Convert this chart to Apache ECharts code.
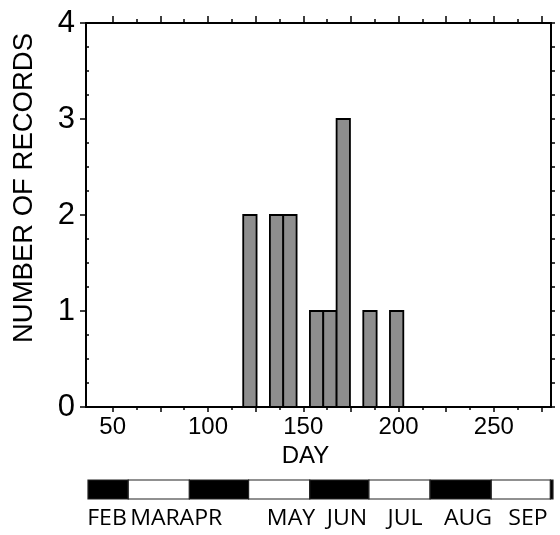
<!DOCTYPE html>
<html>
<head>
<meta charset="utf-8">
<script src="https://cdn.jsdelivr.net/npm/echarts@6/dist/echarts.min.js"></script>
<style>
html,body{margin:0;padding:0;background:#fff;}
#chart{width:560px;height:535px;}
</style>
</head>
<body>
<div id="chart"></div>
<script>
// ---- data ----
const weekCenters = [122, 129, 136, 143, 150, 157, 164, 171, 178, 185, 192, 199];
const counts      = [2,   0,   2,   2,   0,   1,   1,   3,   0,   1,   0,   1];
const binWidth = 7;
const xLabelValues = [50, 100, 150, 200, 250];
const xMajorTicks = [50, 75, 100, 125, 150, 175, 200, 225, 250, 275];
const xMinorTicks = [62.5, 87.5, 112.5, 137.5, 162.5, 187.5, 212.5, 237.5, 262.5];
const yMinorTicks = [0.25, 0.5, 0.75, 1.25, 1.5, 1.75, 2.25, 2.5, 2.75, 3.25, 3.5, 3.75];
const months = ['FEB', 'MAR', 'APR', 'MAY', 'JUN', 'JUL', 'AUG', 'SEP', 'OCT'];
const monthStarts = [32, 60, 91, 121, 152, 182, 213, 244, 274, 305];
const monthLabelX = [107, 155, 201, 291, 347, 405, 468, 528];

const histData = weekCenters.map((d, i) => [d, counts[i]]).filter(p => p[1] > 0);
const monthData = months.map((m, i) => [monthStarts[i], monthStarts[i + 1], i % 2]);

const FONT = 'Liberation Sans';
const black = '#000';

function baseX(extra) {
  return Object.assign({
    type: 'value', gridIndex: 0, min: 36, max: 280,
    splitLine: { show: false },
    axisLine: { show: false, onZero: false },
    axisLabel: { show: false },
    axisTick: { show: false }
  }, extra);
}

const option = {
  backgroundColor: '#fff',
  animation: false,
  grid: [
    { left: 86, right: 9, top: 23, bottom: 128 },
    { left: 88, right: 7, top: 480, height: 19 }
  ],
  xAxis: [
    baseX({
      position: 'bottom',
      axisLine: { show: true, onZero: false, lineStyle: { color: black, width: 2 } },
      axisTick: { show: true, inside: false, length: 5, customValues: xMajorTicks, lineStyle: { color: black, width: 1.5 } },
      axisLabel: { show: true, customValues: xLabelValues, fontSize: 24, color: black, margin: 8, fontFamily: FONT },
      name: 'DAY', nameLocation: 'middle', nameGap: 37,
      nameTextStyle: { fontSize: 24, color: black, fontFamily: FONT, padding: [0, 26, 0, 0] }
    }),
    baseX({
      position: 'bottom',
      axisTick: { show: true, inside: false, length: 3, customValues: xMinorTicks, lineStyle: { color: black, width: 1.5 } }
    }),
    baseX({
      position: 'top',
      axisLine: { show: true, onZero: false, lineStyle: { color: black, width: 2 } },
      axisTick: { show: true, inside: false, length: 7, customValues: xMajorTicks, lineStyle: { color: black, width: 1.5 } }
    }),
    baseX({
      position: 'top',
      axisTick: { show: true, inside: false, length: 4, customValues: xMinorTicks, lineStyle: { color: black, width: 1.5 } }
    }),
    { type: 'value', gridIndex: 1, min: 39.6, max: 275.3, show: false }
  ],
  yAxis: [
    {
      type: 'value', gridIndex: 0, position: 'left', min: 0, max: 4, interval: 1,
      splitLine: { show: false },
      axisLine: { show: true, onZero: false, lineStyle: { color: black, width: 2 } },
      axisTick: { show: true, inside: false, length: 6, lineStyle: { color: black, width: 1.5 } },
      axisLabel: { fontSize: 31, color: black, margin: 11, fontFamily: FONT },
      name: 'NUMBER OF RECORDS', nameLocation: 'middle', nameGap: 48,
      nameTextStyle: { fontSize: 27.5, color: black, fontFamily: FONT, padding: [0, 0, 0, 54] }
    },
    {
      type: 'value', gridIndex: 0, position: 'left', min: 0, max: 4,
      splitLine: { show: false },
      axisLine: { show: false, onZero: false },
      axisLabel: { show: false },
      axisTick: { show: true, inside: true, length: 3, customValues: yMinorTicks, lineStyle: { color: black, width: 1.5 } }
    },
    {
      type: 'value', gridIndex: 0, position: 'right', min: 0, max: 4, interval: 0.25,
      splitLine: { show: false },
      axisLine: { show: true, onZero: false, lineStyle: { color: black, width: 2 } },
      axisLabel: { show: false },
      axisTick: { show: true, inside: false, length: 4, lineStyle: { color: black, width: 1.5 } }
    },
    { type: 'value', gridIndex: 1, min: 0, max: 1, show: false }
  ],
  series: [
    {
      type: 'custom', xAxisIndex: 0, yAxisIndex: 0,
      data: histData,
      renderItem: function (params, api) {
        const x = api.value(0), y = api.value(1);
        const p0 = api.coord([x - binWidth / 2, y]);
        const p1 = api.coord([x + binWidth / 2, 0]);
        return {
          type: 'rect',
          shape: { x: p0[0], y: p0[1], width: p1[0] - p0[0], height: p1[1] - p0[1] },
          style: { fill: '#8e8e8e', stroke: black, lineWidth: 1.8 }
        };
      }
    },
    {
      type: 'custom', xAxisIndex: 4, yAxisIndex: 3,
      data: monthData,
      renderItem: function (params, api) {
        const cs = params.coordSys;
        const a = api.coord([api.value(0), 1]);
        const b = api.coord([api.value(1), 0]);
        const x0 = Math.max(a[0], cs.x);
        const x1 = Math.min(b[0], cs.x + cs.width);
        if (x1 <= x0) return null;
        const dark = api.value(2) === 0;
        return {
          type: 'rect',
          shape: { x: x0, y: a[1], width: x1 - x0, height: b[1] - a[1] },
          style: { fill: dark ? black : '#fff', stroke: '#222', lineWidth: 1.2 }
        };
      }
    }
  ],
  graphic: months.slice(0, 8).map((m, i) => ({
    type: 'text', x: monthLabelX[i], y: 519, scaleX: 1.1,
    style: { text: m, fontSize: 21, fontFamily: 'Open Sans', fill: black, align: 'center', verticalAlign: 'middle' }
  }))
};

const chart = echarts.init(document.getElementById('chart'), null, { renderer: 'canvas' });
chart.setOption(option);
</script>
</body>
</html>
